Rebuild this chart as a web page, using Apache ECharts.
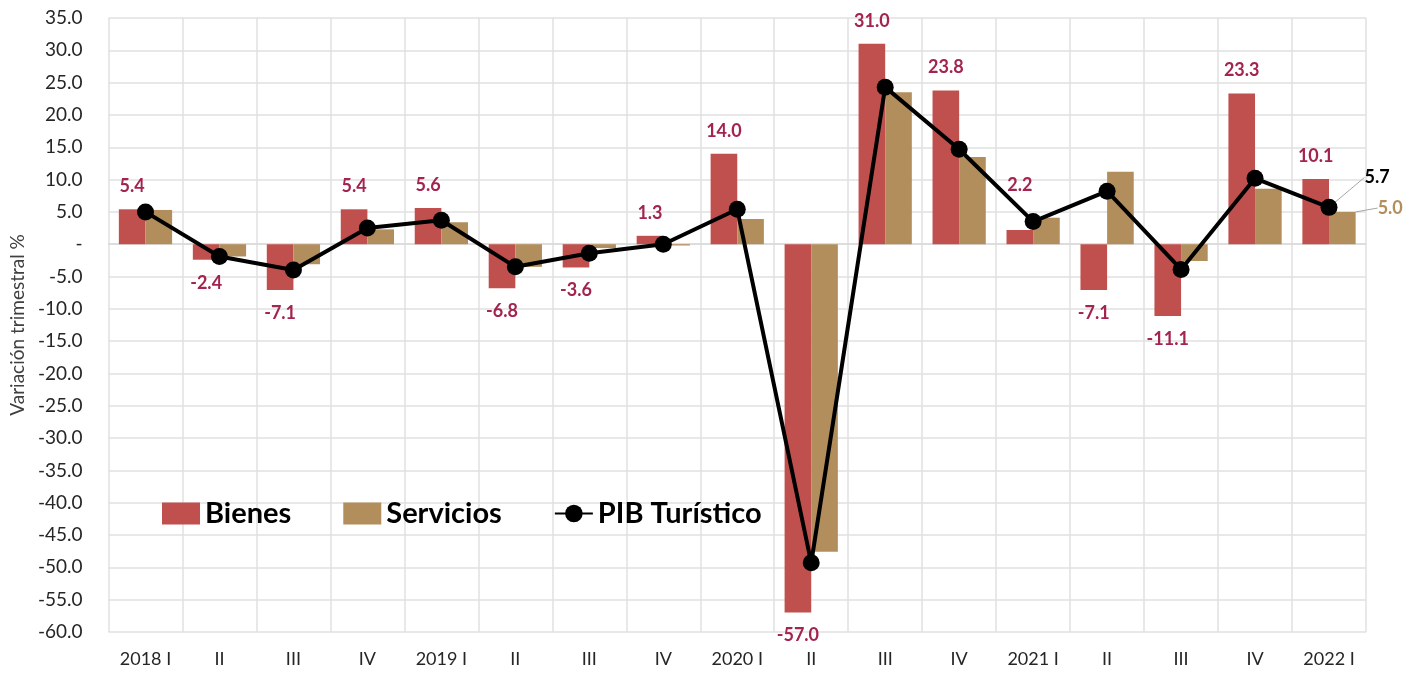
<!DOCTYPE html>
<html>
<head>
<meta charset="utf-8">
<script src="https://cdn.jsdelivr.net/npm/echarts@6/dist/echarts.min.js"></script>
<style>
  html, body { margin: 0; padding: 0; background: #fff; }
  #chart { width: 1420px; height: 676px; }
</style>
</head>
<body>
<div id="chart"></div>
<script>
// Quarter labels
const quarters = ['2018 I', 'II', 'III', 'IV', '2019 I', 'II', 'III', 'IV',
  '2020 I', 'II', 'III', 'IV', '2021 I', 'II', 'III', 'IV', '2022 I'];

// Quarterly variation, %
const bienes = [5.4, -2.4, -7.1, 5.4, 5.6, -6.8, -3.6, 1.3, 14.0, -57.0, 31.0, 23.8, 2.2, -7.1, -11.1, 23.3, 10.1];
const servicios = [5.3, -1.9, -3.1, 2.3, 3.4, -3.5, -0.6, -0.2, 3.9, -47.6, 23.5, 13.5, 4.1, 11.2, -2.6, 8.6, 5.0];
const pibTuristico = [5.0, -1.9, -4.0, 2.5, 3.7, -3.5, -1.4, 0.0, 5.4, -49.3, 24.3, 14.7, 3.5, 8.2, -3.9, 10.2, 5.7];

const FONT = 'Lato, "Open Sans", sans-serif';
const RED = '#C0504D';
const TAN = '#B38E5D';
const LABEL_RED = '#A3244F';

const chart = echarts.init(document.getElementById('chart'));

const lastIdx = quarters.length - 1;

chart.setOption({
  animation: false,
  textStyle: { fontFamily: FONT },
  grid: { left: 108, right: 54, top: 18, bottom: 44 },
  legend: {
    left: 157,
    top: 494,
    itemWidth: 38,
    itemHeight: 22,
    itemGap: 52,
    textStyle: { fontSize: 29, fontWeight: 'bold', color: '#000', fontFamily: FONT },
    data: [
      { name: 'Bienes', icon: 'rect' },
      { name: 'Servicios', icon: 'rect' },
      { name: 'PIB Turístico' }
    ]
  },
  xAxis: {
    type: 'category',
    data: quarters,
    axisLine: { show: true, lineStyle: { color: '#D9D9D9', width: 1.5 } },
    axisTick: { show: false },
    axisLabel: { fontSize: 18, color: '#262626', margin: 18, interval: 0 },
    splitLine: { show: true, interval: 0, lineStyle: { color: '#E0E0E0', width: 1.5 } }
  },
  yAxis: {
    type: 'value',
    min: -60,
    max: 35,
    interval: 5,
    name: 'Variación trimestral %',
    nameLocation: 'middle',
    nameGap: 78,
    nameTextStyle: { fontSize: 19, color: '#404040' },
    axisLine: { show: false },
    axisTick: { show: false },
    axisLabel: {
      fontSize: 19,
      color: '#262626',
      margin: 26,
      formatter: v => (v === 0 ? '-' : v.toFixed(1))
    },
    splitLine: { lineStyle: { color: '#E0E0E0', width: 1.5 } }
  },
  series: [
    {
      name: 'Bienes',
      type: 'bar',
      barGap: '0%',
      barCategoryGap: '28%',
      itemStyle: { color: RED },
      data: bienes.map((v, i) => ({
        value: v,
        label: {
          show: true,
          position: v >= 0 ? 'top' : 'bottom',
          distance: i === 12 ? 36 : 14
        }
      })),
      label: {
        formatter: p => p.value.toFixed(1),
        fontSize: 18,
        fontWeight: 'bold',
        color: LABEL_RED
      },
      z: 2
    },
    {
      name: 'Servicios',
      type: 'bar',
      itemStyle: { color: TAN },
      data: servicios.map((v, i) => i === lastIdx
        ? { value: v, label: { show: true, position: 'right', distance: 18 } }
        : v),
      label: {
        formatter: p => p.value.toFixed(1),
        fontSize: 18,
        fontWeight: 'bold',
        color: TAN
      },
      labelLayout: p => (p.dataIndex === lastIdx ? { dx: 4, dy: -20 } : {}),
      labelLine: { show: true, lineStyle: { color: '#A6A6A6', width: 1 } },
      z: 2
    },
    {
      name: 'PIB Turístico',
      type: 'line',
      symbol: 'circle',
      symbolSize: 17,
      lineStyle: { color: '#000', width: 4 },
      itemStyle: { color: '#000' },
      data: pibTuristico.map((v, i) => i === lastIdx
        ? { value: v, label: { show: true, position: 'right' } }
        : v),
      label: {
        formatter: p => p.value.toFixed(1),
        fontSize: 18,
        fontWeight: 'bold',
        color: '#000'
      },
      labelLayout: p => (p.dataIndex === lastIdx ? { dx: 22, dy: -30 } : {}),
      labelLine: { show: true, lineStyle: { color: '#A6A6A6', width: 1 } },
      z: 5
    }
  ]
});
</script>
</body>
</html>
